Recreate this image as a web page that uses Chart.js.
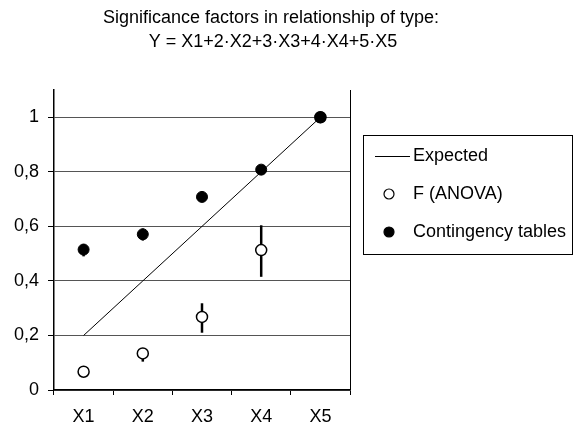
<!DOCTYPE html>
<html>
<head>
<meta charset="utf-8">
<script src="https://cdn.jsdelivr.net/npm/chart.js@4/dist/chart.umd.min.js"></script>
<style>
  html, body { margin: 0; padding: 0; background: #fff; }
  #wrap { width: 581px; height: 427px; }
</style>
</head>
<body>
<div id="wrap"><canvas id="chart" width="581" height="427"></canvas></div>
<script>
// data
const categories = ['X1', 'X2', 'X3', 'X4', 'X5'];
const expected = [0.2, 0.4, 0.6, 0.8, 1.0];
const anova = [0.067, 0.134, 0.268, 0.513, 1.0];
const anovaLow = [0.06, 0.104, 0.21, 0.415, 0.99];
const anovaHigh = [0.075, 0.15, 0.318, 0.604, 1.01];
const contingency = [0.515, 0.571, 0.708, 0.808, 1.0];
const contLow = [0.49, 0.548, 0.69, 0.79, 0.99];
const contHigh = [0.535, 0.592, 0.726, 0.822, 1.01];
const yTicks = [0, 0.2, 0.4, 0.6, 0.8, 1];
const titleLines = ['Significance factors in relationship of type:', 'Y = X1+2\u00b7X2+3\u00b7X3+4\u00b7X4+5\u00b7X5'];

const FONT = '"Liberation Sans", Arial, sans-serif';

// error bars, drawn under the markers
const errorBars = {
	id: 'errorBars',
	beforeDatasetsDraw(chart) {
		const ctx = chart.ctx;
		const x = chart.scales.x, y = chart.scales.y;
		ctx.save();
		ctx.strokeStyle = '#000';
		ctx.lineWidth = 2.5;
		const draw = (lo, hi) => {
			for (let i = 0; i < categories.length; i++) {
				const px = x.getPixelForValue(i);
				ctx.beginPath();
				ctx.moveTo(px, y.getPixelForValue(lo[i]));
				ctx.lineTo(px, y.getPixelForValue(hi[i]));
				ctx.stroke();
			}
		};
		draw(anovaLow, anovaHigh);
		draw(contLow, contHigh);
		ctx.restore();
	}
};

// title, right border and boxed legend
const decor = {
	id: 'decor',
	afterDraw(chart) {
		const ctx = chart.ctx;
		const a = chart.chartArea;
		ctx.save();
		ctx.strokeStyle = '#000';
		ctx.lineWidth = 1;
		ctx.beginPath();
		ctx.moveTo(a.right + 0.5, a.top);
		ctx.lineTo(a.right + 0.5, a.bottom);
		ctx.stroke();

		ctx.fillStyle = '#000';
		ctx.font = '18px ' + FONT;
		ctx.textAlign = 'center';
		ctx.textBaseline = 'middle';
		ctx.fillText(titleLines[0], 271, 18);
		ctx.fillText(titleLines[1], 273, 42);

		// legend
		const lx = 363, ly = 135, lw = 209, lh = 119;
		ctx.strokeRect(lx + 0.5, ly + 0.5, lw, lh);
		const ds = chart.data.datasets;
		const rows = [156, 194, 232];
		ctx.textAlign = 'left';
		ds.forEach((d, i) => {
			const cy = rows[i];
			if (i === 0) {
				ctx.beginPath();
				ctx.moveTo(375, cy + 0.5);
				ctx.lineTo(410, cy + 0.5);
				ctx.stroke();
			} else {
				ctx.beginPath();
				ctx.arc(389, cy, 5, 0, Math.PI * 2);
				ctx.fillStyle = d.pointBackgroundColor;
				ctx.fill();
				ctx.lineWidth = 1.2;
				ctx.stroke();
				ctx.lineWidth = 1;
			}
			ctx.fillStyle = '#000';
			ctx.fillText(d.label, 413, cy);
		});
		ctx.restore();
	}
};

new Chart(document.getElementById('chart'), {
	type: 'line',
	data: {
		labels: categories,
		datasets: [
			{
				label: 'Expected',
				data: expected,
				borderColor: '#000',
				borderWidth: 1,
				pointRadius: 0,
				fill: false,
				tension: 0,
				order: 2
			},
			{
				label: 'F (ANOVA)',
				data: anova,
				showLine: false,
				pointRadius: 5.5,
				pointBorderWidth: 1.5,
				pointBorderColor: '#000',
				pointBackgroundColor: '#fff',
				order: 1
			},
			{
				label: 'Contingency tables',
				data: contingency,
				showLine: false,
				pointRadius: 5.5,
				pointBorderWidth: 1,
				pointBorderColor: '#000',
				pointBackgroundColor: '#000',
				order: 0
			}
		]
	},
	options: {
		responsive: false,
		animation: false,
		events: [],
		layout: { padding: { top: 90, right: 231, left: 0, bottom: 0 } },
		plugins: {
			legend: { display: false },
			title: { display: false },
			tooltip: { enabled: false }
		},
		scales: {
			x: {
				offset: true,
				grid: { offset: true, drawOnChartArea: false, drawTicks: true, tickLength: 5, color: '#000' },
				border: { color: '#000', width: 1.5 },
				ticks: { color: '#000', font: { family: FONT, size: 18 }, padding: 11 },
				afterFit(scale) { scale.height = 37; }
			},
			y: {
				min: 0,
				max: 1.1,
				afterBuildTicks(scale) { scale.ticks = yTicks.map(v => ({ value: v })); },
				grid: { color: '#555', lineWidth: 1, tickLength: 6, drawTicks: true, tickColor: '#000' },
				border: { color: '#000', width: 1.5 },
				ticks: {
					color: '#000',
					font: { family: FONT, size: 18 },
					padding: 9,
					callback: v => String(v).replace('.', ',')
				},
				afterFit(scale) { scale.width = 54; }
			}
		}
	},
	plugins: [errorBars, decor]
});
</script>
</body>
</html>
